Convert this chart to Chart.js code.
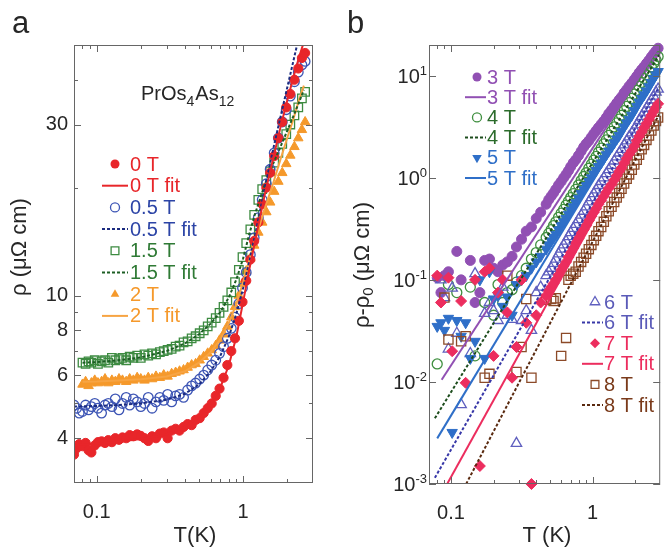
<!DOCTYPE html>
<html>
<head>
<meta charset="utf-8">
<title>PrOs4As12 resistivity</title>
<script src="https://cdn.jsdelivr.net/npm/chart.js@4.4.1/dist/chart.umd.min.js"></script>
<style>
  html, body { margin: 0; padding: 0; background: #fff; }
  #wrap { position: relative; width: 668px; height: 550px; }
  #wrap canvas { position: absolute; top: 0; }
  #chartA { left: 0; }
  #chartB { left: 334px; }
</style>
</head>
<body>
<div id="wrap">
  <canvas id="chartA" width="334" height="550"></canvas>
  <canvas id="chartB" width="334" height="550"></canvas>
</div>
<script>
// ---------- panel a : rho(T) in low fields ----------
var seriesA = ['0 T', '0.5 T', '1.5 T', '2 T'];
var tA = [0.07, 0.073, 0.076, 0.08, 0.084, 0.088, 0.092, 0.097, 0.102, 0.108, 0.114, 0.12, 0.127, 0.134, 0.142, 0.15,
  0.159, 0.168, 0.178, 0.189, 0.2, 0.212, 0.225, 0.239, 0.254, 0.27, 0.287, 0.305, 0.325, 0.346, 0.368, 0.392, 0.418,
  0.445, 0.474, 0.505, 0.538, 0.573, 0.61, 0.65, 0.69, 0.735, 0.78, 0.83, 0.88, 0.935, 0.99, 1.05, 1.12, 1.19, 1.27,
  1.35, 1.44, 1.53, 1.63, 1.74, 1.85, 1.97, 2.1, 2.24, 2.38, 2.52, 2.65];
var rho0T = [3.6, 3.75, 3.85, 3.8, 3.88, 3.7, 3.65, 3.82, 3.9, 3.92, 3.88, 3.95, 3.9, 4.0, 3.96, 4.02, 4.0, 4.08, 4.05,
  4.1, 4.06, 4.0, 3.93, 4.05, 4.0, 4.12, 4.15, 4.0, 4.2, 4.25, 4.2, 4.3, 4.38, 4.35, 4.5, 4.55, 4.7, 4.85, 5.0, 5.25,
  5.5, 5.9, 6.4, 7.0, 7.6, 8.5, 9.6, 11.0, 12.6, 14.2, 16.0, 18.0, 20.0, 22.0, 24.5, 27.5, 30.5, 33.5, 36.5, 40, 43, 46, 47.5];
var rho05T = [4.95, 4.85, 4.7, 4.75, 4.95, 4.8, 4.9, 5.0, 4.85, 4.7, 4.95, 5.0, 4.9, 5.15, 4.8, 5.0, 5.2, 4.95, 5.15,
  5.05, 4.9, 5.0, 5.2, 4.85, 5.05, 5.2, 5.1, 5.3, 5.05, 5.25, 5.3, 5.2, 5.45, 5.6, 5.7, 5.85, 6.0, 6.2, 6.4, 6.6, 6.9,
  7.2, 7.6, 8.1, 8.7, 9.5, 10.5, 11.6, 13.0, 14.5, 16.5, 18.5, 20.5, 22.5, 25, 27.5, 30.5, 33, 36, 39.5, 42, 44, 45];
var rho15T = [null, null, null, 6.5, 6.45, 6.55, 6.5, 6.6, 6.45, 6.55, 6.6, 6.5, 6.7, 6.6, 6.65, 6.7, 6.6, 6.75, 6.7,
  6.8, 6.7, 6.85, 6.8, 6.9, 6.85, 6.95, 7.0, 7.05, 7.1, 7.2, 7.25, 7.4, 7.45, 7.6, 7.7, 7.85, 8.0, 8.2, 8.4, 8.65, 8.95,
  9.3, 9.7, 10.2, 10.9, 11.8, 12.8, 14.0, 15.3, 16.8, 18.5, 19.8, 21.0, 22.2, 23.5, 25, 26.5, 28.2, 30, 31.8, 33.5, 35.5, 37];
var rho2T = [null, null, null, 5.65, 5.75, 5.6, 5.7, 5.8, 5.7, 5.75, 5.85, 5.7, 5.8, 5.75, 5.85, 5.8, 5.75, 5.85, 5.8,
  5.9, 5.85, 5.8, 5.9, 5.85, 5.95, 5.9, 6.0, 5.95, 6.05, 6.1, 6.15, 6.2, 6.3, 6.4, 6.45, 6.6, 6.75, 6.9, 7.05, 7.25,
  7.5, 7.8, 8.2, 8.7, 9.3, 10.0, 10.8, 11.7, 12.7, 13.8, 15.0, 16.0, 17.1, 18.2, 19.5, 20.8, 22.0, 23.3, 24.6, 26.0, 27.5, 29.0, 30.5];
var tFitA = [0.07, 0.08, 0.1, 0.15, 0.2, 0.3, 0.4, 0.5, 0.6, 0.7, 0.8, 0.9, 1.0, 1.1, 1.2, 1.4, 1.6, 1.8, 2.0, 2.2, 2.4, 2.6];
var fit0T = [3.82, 3.84, 3.86, 3.92, 3.98, 4.1, 4.3, 4.6, 5.0, 5.55, 6.4, 7.7, 9.6, 11.8, 14.0, 19, 24, 29.5, 35, 40.5, 46, 51];
var fit05T = [4.9, 4.91, 4.92, 4.96, 5.0, 5.12, 5.32, 5.65, 6.15, 6.8, 7.7, 8.9, 10.5, 12.4, 14.6, 19.8, 25.5, 31.5, 38, 45, 52.5, 60];
var fit15T = [null, 6.5, 6.52, 6.62, 6.72, 7.0, 7.35, 7.8, 8.35, 9.0, 9.9, 11.1, 12.7, 14.8, 16.8, 20.3, 23.3, 26, 28.8, 31.6, 34.5, 37.5];
var fit2T = [null, 5.75, 5.76, 5.8, 5.84, 5.95, 6.15, 6.5, 6.95, 7.55, 8.4, 9.5, 10.9, 12.5, 14.2, 17.4, 20.5, 24, 27.5, 31, 35, 38.5];

// ---------- panel b : rho - rho0 in higher fields ----------
var seriesB = ['3 T', '4 T', '5 T', '6 T', '7 T', '8 T'];
var tB = [0.08, 0.085, 0.09, 0.096, 0.102, 0.11, 0.118, 0.127, 0.137, 0.148, 0.16, 0.173, 0.187, 0.2, 0.215, 0.232,
  0.25, 0.27, 0.29, 0.315, 0.34, 0.37, 0.4, 0.43, 0.47, 0.51, 0.55, 0.6, 0.65, 0.7, 0.76, 0.83, 0.9, 0.98, 1.06, 1.15,
  1.25, 1.36, 1.48, 1.6, 1.74, 1.89, 2.05, 2.22, 2.4, 2.6, 2.8];
var d3T = [0.105, 0.075, 0.11, 0.12, null, 0.19, 0.1, null, 0.155, 0.06, 0.075, 0.155, 0.16, 0.13, 0.12, 0.14, 0.15,
  0.17, 0.21, 0.25, 0.3, 0.33, 0.4, 0.46, 0.55, 0.66, 0.77, 0.92, 1.08, 1.28, 1.5, 1.82, 2.15, 2.5, 2.9, 3.35, 3.9,
  4.6, 5.4, 6.2, 7.3, 8.5, 9.9, 11.5, 13.2, 15.3, 17.5];
var d4T = [0.015, null, null, 0.09, null, 0.075, null, null, 0.085, 0.018, null, 0.06, null, 0.045, 0.09, 0.06, 0.075,
  0.08, 0.095, 0.11, 0.13, 0.16, 0.185, 0.22, 0.26, 0.31, 0.37, 0.45, 0.54, 0.64, 0.77, 0.94, 1.12, 1.36, 1.62, 1.95,
  2.35, 2.85, 3.45, 4.1, 5.0, 6.0, 7.2, 8.6, 10.2, 12.2, 14.3];
var d5T = [0.035, 0.038, 0.032, 0.042, 0.0032, 0.04, 0.028, 0.038, 0.017, 0.025, 0.1, 0.017, 0.12, 0.065, 0.07, 0.055,
  0.068, 0.045, 0.09, 0.1, 0.11, 0.13, 0.15, 0.17, 0.2, 0.24, 0.28, 0.34, 0.4, 0.48, 0.57, 0.7, 0.84, 1.0, 1.18, 1.4,
  1.68, 2.0, 2.4, 2.85, 3.45, 4.1, 5.0, 6.0, 7.1, 8.6, 10.2];
var d6T = [null, 0.1, 0.067, 0.021, 0.083, 0.03, 0.006, null, 0.019, 0.115, null, 0.047, 0.06, 0.05, 0.04, 0.085,
  0.045, 0.041, 0.0025, 0.04, 0.05, 0.032, 0.075, 0.085, 0.11, 0.13, 0.16, 0.2, 0.24, 0.29, 0.35, 0.43, 0.52, 0.64,
  0.76, 0.92, 1.1, 1.32, 1.6, 1.9, 2.3, 2.75, 3.3, 4.0, 4.8, 5.8, 6.9];
var d7T = [0.11, 0.06, null, 0.105, 0.02, null, 0.062, 0.0098, null, 0.1, 0.0015, 0.12, 0.13, 0.018, 0.075, 0.1,
  0.048, 0.011, 0.022, 0.1, 0.038, 0.001, 0.045, 0.06, 0.07, 0.085, 0.1, 0.125, 0.15, 0.185, 0.23, 0.285, 0.34, 0.42,
  0.5, 0.6, 0.72, 0.86, 1.05, 1.25, 1.55, 1.85, 2.3, 2.8, 3.4, 4.1, 4.9];
var d8T = [null, null, 0.067, 0.026, null, null, 0.025, 0.028, null, null, null, 0.011, 0.012, null, null, null, 0.11,
  null, 0.0125, 0.022, 0.065, 0.011, null, null, 0.064, 0.065, 0.066, 0.018, 0.027, 0.11, 0.12, 0.15, 0.18, 0.22, 0.27,
  0.33, 0.42, 0.52, 0.64, 0.78, 0.98, 1.2, 1.5, 1.9, 2.35, 2.9, 3.6];
// second, interleaved sweep above 0.5 K (the dense part of the curves)
var tB2 = [0.49, 0.53, 0.575, 0.625, 0.675, 0.73, 0.795, 0.865, 0.94, 1.02, 1.1, 1.2, 1.3, 1.42, 1.54, 1.67, 1.81,
  1.97, 2.13, 2.31, 2.5, 2.7, 2.9];
var d3Tb = [0.61, 0.71, 0.85, 1.0, 1.17, 1.4, 1.65, 2.0, 2.3, 2.7, 3.1, 3.6, 4.25, 5.0, 5.8, 6.8, 7.9, 9.2, 10.7, 12.3, 14.2, 16.4, 18.6];
var d4Tb = [0.285, 0.34, 0.41, 0.49, 0.59, 0.7, 0.85, 1.03, 1.24, 1.49, 1.78, 2.15, 2.6, 3.15, 3.75, 4.55, 5.45, 6.6, 7.9, 9.4, 11.2, 13.2, 15.4];
var d5Tb = [0.22, 0.26, 0.31, 0.37, 0.44, 0.52, 0.63, 0.77, 0.92, 1.09, 1.29, 1.54, 1.83, 2.2, 2.6, 3.15, 3.75, 4.55, 5.5, 6.5, 7.8, 9.4, 11.0];
var d6Tb = [0.12, 0.145, 0.18, 0.22, 0.265, 0.32, 0.39, 0.47, 0.58, 0.7, 0.84, 1.0, 1.2, 1.46, 1.75, 2.1, 2.52, 3.0, 3.65, 4.4, 5.3, 6.3, 7.4];
var d7Tb = [0.078, 0.092, 0.112, 0.137, 0.167, 0.205, 0.255, 0.31, 0.38, 0.46, 0.55, 0.66, 0.79, 0.95, 1.15, 1.4, 1.7, 2.05, 2.55, 3.1, 3.75, 4.5, 5.3];
var d8Tb = [null, 0.062, null, null, 0.1, 0.115, 0.135, 0.165, 0.2, 0.245, 0.3, 0.37, 0.47, 0.58, 0.71, 0.88, 1.08, 1.35, 1.68, 2.1, 2.6, 3.25, 3.9];
// power-law fits: straight lines on log-log axes, given by their end points
var tFit3T = [0.086, 2.95], fit3T = [0.0105, 19.5];
var tFit4T = [0.077, 2.95], fit4T = [0.0044, 16];
var tFit5T = [0.08, 2.95], fit5T = [0.0028, 11];
var tFit6T = [0.077, 2.95], fit6T = [0.00115, 7.8];
var tFit7T = [0.094, 2.95], fit7T = [0.001, 5.6];
var tFit8T = [0.128, 2.95], fit8T = [0.001, 4.2];

// ---------- axes ----------
var xTicks = [0.08, 0.09, 0.1, 0.2, 0.3, 0.4, 0.5, 0.6, 0.7, 0.8, 0.9, 1, 2];
var xMajor = [0.1, 1];
var yTicksA = [4, 5, 6, 7, 8, 9, 10, 20, 30, 40];
var yLabelsA = [4, 6, 8, 10, 30];
var yTicksB = [0.001, 0.01, 0.1, 1, 10];

var FONT = '"Liberation Sans", Arial, Helvetica, sans-serif';
var INK = '#262626';

function pts(ts, vs) {
  var out = [];
  for (var i = 0; i < ts.length; i++) {
    if (vs[i] != null) out.push({x: ts[i], y: vs[i]});
  }
  return out;
}

function markerSet(data, st, r, order, clip) {
  return {
    data: data, showLine: false, order: order, clip: clip,
    pointStyle: st.mk, pointRadius: r, pointHoverRadius: r, pointRotation: st.rot || 0,
    pointBackgroundColor: st.fill ? st.c : 'rgba(0,0,0,0)',
    pointBorderColor: st.c, pointBorderWidth: st.fill ? 1 : 1.3
  };
}

function fitSet(ts, vs, st) {
  return {
    data: pts(ts, vs), showLine: true, order: 0,
    borderColor: st.fc, borderWidth: 2, borderDash: st.dash,
    pointRadius: 0, pointHoverRadius: 0, fill: false, tension: 0
  };
}

function drawMarker(ctx, st, x, y, r) {
  ctx.beginPath();
  if (st.mk === 'circle') {
    ctx.arc(x, y, r, 0, Math.PI * 2);
  } else if (st.mk === 'rect') {
    var s = r * Math.SQRT1_2;
    ctx.rect(x - s, y - s, 2 * s, 2 * s);
  } else if (st.mk === 'rectRot') {
    ctx.moveTo(x, y - r); ctx.lineTo(x + r, y); ctx.lineTo(x, y + r); ctx.lineTo(x - r, y); ctx.closePath();
  } else {
    var a = (st.rot || 0) * Math.PI / 180;
    for (var i = 0; i < 3; i++) {
      var px = x + Math.sin(a) * r, py = y - Math.cos(a) * r;
      if (i) ctx.lineTo(px, py); else ctx.moveTo(px, py);
      a += Math.PI * 2 / 3;
    }
    ctx.closePath();
  }
  if (st.fill) { ctx.fillStyle = st.c; ctx.fill(); }
  else { ctx.strokeStyle = st.c; ctx.lineWidth = 1.3; ctx.stroke(); }
}

// legend: one marker row and one "fit" row per series
function drawLegend(ctx, names, styles, L) {
  ctx.font = '20px ' + FONT;
  ctx.textBaseline = 'middle';
  ctx.textAlign = 'left';
  names.forEach(function (name, i) {
    var st = styles[i], y1 = L.y0 + 2 * i * L.dy, y2 = y1 + L.dy;
    drawMarker(ctx, st, L.mx, y1, st.lr || 4.5);
    ctx.save();
    ctx.strokeStyle = st.fc; ctx.lineWidth = 2; ctx.setLineDash(st.dash);
    ctx.beginPath(); ctx.moveTo(L.lx0, y2); ctx.lineTo(L.lx1, y2); ctx.stroke();
    ctx.restore();
    ctx.fillStyle = st.tc;
    ctx.fillText(name, L.tx, y1 + 1);
    ctx.fillText(name + ' fit', L.tx, y2 + 1);
  });
}

function xAxis(h) {
  return {
    type: 'logarithmic', min: 0.07, max: 3,
    grid: {display: false, drawTicks: false}, border: {display: false},
    afterBuildTicks: function (s) { s.ticks = xTicks.map(function (v) { return {value: v}; }); },
    afterFit: function (s) { s.height = h; },
    ticks: {
      autoSkip: false, maxRotation: 0, padding: 17, color: INK, font: {family: FONT, size: 20},
      callback: function (v) { return xMajor.indexOf(v) >= 0 ? String(v) : ''; }
    }
  };
}

function framePlugin(yTicks, yMajor, extra) {
  return {
    id: 'frame',
    afterDraw: function (chart) {
      var ctx = chart.ctx, a = chart.chartArea, xs = chart.scales.x, ys = chart.scales.y;
      ctx.save();
      ctx.strokeStyle = '#666';
      ctx.lineWidth = 1;
      ctx.strokeRect(a.left + 0.5, a.top + 0.5, a.right - a.left - 1, a.bottom - a.top - 1);
      ctx.beginPath();
      xTicks.forEach(function (v) {
        var p = Math.round(xs.getPixelForValue(v)) + 0.5, len = xMajor.indexOf(v) >= 0 ? 7 : 4;
        ctx.moveTo(p, a.bottom); ctx.lineTo(p, a.bottom - len);
        ctx.moveTo(p, a.top); ctx.lineTo(p, a.top + len);
      });
      yTicks.forEach(function (v) {
        var p = Math.round(ys.getPixelForValue(v)) + 0.5, len = yMajor.indexOf(v) >= 0 ? 7 : 4;
        ctx.moveTo(a.left, p); ctx.lineTo(a.left + len, p);
        ctx.moveTo(a.right, p); ctx.lineTo(a.right - len, p);
      });
      ctx.stroke();
      extra(ctx, chart);
      ctx.restore();
    }
  };
}

function baseOptions(padTop, padRight) {
  return {
    responsive: false, animation: false, events: [],
    layout: {padding: {top: padTop, right: padRight, left: 0, bottom: 0}},
    plugins: {legend: {display: false}, tooltip: {enabled: false}}
  };
}

// ---------- panel a ----------
var stylesA = [
  {mk: 'circle', fill: true, c: '#e8262a', tc: '#e8262a', fc: '#e8262a', dash: []},
  {mk: 'circle', fill: false, c: '#3d55b5', tc: '#2c44a6', fc: '#1c2c80', dash: [3, 2]},
  {mk: 'rect', fill: false, c: '#3d8b41', tc: '#2f7a35', fc: '#1d5e24', dash: [3, 2], lr: 5.5},
  {mk: 'triangle', fill: true, c: '#f5992b', tc: '#f5992b', fc: '#f7a443', dash: [], lr: 5}
];
var optA = baseOptions(45, 21);
optA.scales = {
  x: xAxis(67),
  y: {
    type: 'logarithmic', min: 3, max: 50,
    grid: {display: false, drawTicks: false}, border: {display: false},
    afterBuildTicks: function (s) { s.ticks = yTicksA.map(function (v) { return {value: v}; }); },
    afterFit: function (s) { s.width = 74; },
    ticks: {
      autoSkip: false, padding: 6, color: INK, font: {family: FONT, size: 20},
      callback: function (v) { return yLabelsA.indexOf(v) >= 0 ? String(v) : ''; }
    }
  }
};
new Chart(document.getElementById('chartA'), {
  type: 'scatter',
  data: {datasets: [
    fitSet(tFitA, fit0T, stylesA[0]),
    fitSet(tFitA, fit05T, stylesA[1]),
    fitSet(tFitA, fit15T, stylesA[2]),
    fitSet(tFitA, fit2T, stylesA[3]),
    markerSet(pts(tA, rho0T), stylesA[0], 4.6, 1),
    markerSet(pts(tA, rho05T), stylesA[1], 4.8, 2),
    markerSet(pts(tA, rho15T), stylesA[2], 6, 3),
    markerSet(pts(tA, rho2T), stylesA[3], 5.5, 4)
  ]},
  options: optA,
  plugins: [framePlugin(yTicksA, yLabelsA, function (ctx, chart) {
    ctx.fillStyle = INK;
    ctx.textBaseline = 'alphabetic';
    ctx.textAlign = 'left';
    ctx.font = '31px ' + FONT;
    ctx.fillText('a', 12, 33);
    // compound name with subscripts
    var x = 141;
    [['PrOs', 0], ['4', 1], ['As', 0], ['12', 1]].forEach(function (p) {
      ctx.font = (p[1] ? 14 : 20) + 'px ' + FONT;
      ctx.fillText(p[0], x, p[1] ? 106 : 100);
      x += ctx.measureText(p[0]).width + (p[1] ? 1 : 0);
    });
    ctx.font = '22px ' + FONT;
    ctx.textAlign = 'center';
    ctx.textBaseline = 'middle';
    ctx.fillText('T(K)', 195, 536);
    ctx.save();
    ctx.translate(20, 247);
    ctx.rotate(-Math.PI / 2);
    ctx.fillText('\u03c1 (\u03bc\u03a9 cm)', 0, 0);
    ctx.restore();
    drawLegend(ctx, seriesA, stylesA, {mx: 115, lx0: 102, lx1: 128, tx: 130, y0: 164, dy: 21.7});
  })]
});

// ---------- panel b ----------
var stylesB = [
  {mk: 'circle', fill: true, c: '#9150b3', tc: '#9150b3', fc: '#9150b3', dash: []},
  {mk: 'circle', fill: false, c: '#3f8f3f', tc: '#2b6b2b', fc: '#1d4d1d', dash: [3, 2]},
  {mk: 'triangle', rot: 180, fill: true, c: '#2f6fc8', tc: '#2f6fc8', fc: '#2f6fc8', dash: [], lr: 5.5},
  {mk: 'triangle', fill: false, c: '#5f5fbf', tc: '#5a5ab8', fc: '#3838a8', dash: [3, 2], lr: 5.5},
  {mk: 'rectRot', fill: true, c: '#ec2d5e', tc: '#ec2d5e', fc: '#ec2d5e', dash: [], lr: 5},
  {mk: 'rect', fill: false, c: '#8c4a28', tc: '#7a3a1a', fc: '#5a2a10', dash: [3, 2], lr: 5.5}
];
var optB = baseOptions(45, 1);
optB.scales = {
  x: xAxis(66),
  y: {
    type: 'logarithmic', min: 0.001, max: 20,
    grid: {display: false, drawTicks: false}, border: {display: false},
    afterFit: function (s) { s.width = 95; },
    ticks: {display: false}
  }
};
new Chart(document.getElementById('chartB'), {
  type: 'scatter',
  data: {datasets: [
    fitSet(tFit3T, fit3T, stylesB[0]),
    fitSet(tFit4T, fit4T, stylesB[1]),
    fitSet(tFit5T, fit5T, stylesB[2]),
    fitSet(tFit6T, fit6T, stylesB[3]),
    fitSet(tFit7T, fit7T, stylesB[4]),
    fitSet(tFit8T, fit8T, stylesB[5]),
    markerSet(pts(tB, d3T).concat(pts(tB2, d3Tb)), stylesB[0], 5, 6, false),
    markerSet(pts(tB, d4T).concat(pts(tB2, d4Tb)), stylesB[1], 5, 5, false),
    markerSet(pts(tB, d5T).concat(pts(tB2, d5Tb)), stylesB[2], 6, 3, false),
    markerSet(pts(tB, d6T).concat(pts(tB2, d6Tb)), stylesB[3], 6, 4, false),
    markerSet(pts(tB, d7T).concat(pts(tB2, d7Tb)), stylesB[4], 5.5, 1, false),
    markerSet(pts(tB, d8T).concat(pts(tB2, d8Tb)), stylesB[5], 6.5, 2, false)
  ]},
  options: optB,
  plugins: [framePlugin(yTicksB, yTicksB, function (ctx, chart) {
    var a = chart.chartArea, ys = chart.scales.y;
    ctx.fillStyle = INK;
    ctx.textAlign = 'left';
    ctx.textBaseline = 'alphabetic';
    ctx.font = '31px ' + FONT;
    ctx.fillText('b', 13, 33);
    // decade labels 10^n
    yTicksB.forEach(function (v) {
      var e = Math.round(Math.log10(v)), y = ys.getPixelForValue(v);
      var ex = e < 0 ? '-' + (-e) : String(e);
      ctx.font = '13px ' + FONT;
      var we = ctx.measureText(ex).width;
      ctx.font = '20px ' + FONT;
      var wb = ctx.measureText('10').width;
      var x0 = a.left - 2 - we - wb;
      ctx.fillText('10', x0, y + 7);
      ctx.font = '13px ' + FONT;
      ctx.fillText(ex, x0 + wb, y - 1);
    });
    ctx.font = '22px ' + FONT;
    ctx.textAlign = 'center';
    ctx.textBaseline = 'middle';
    ctx.fillText('T (K)', 213, 536);
    // rotated axis title with subscript 0
    ctx.save();
    ctx.translate(29, 265);
    ctx.rotate(-Math.PI / 2);
    ctx.textAlign = 'left';
    var parts = [['\u03c1-\u03c1', 22, 0], ['0', 15, 6], [' (\u03bc\u03a9 cm)', 22, 0]];
    var total = 0;
    parts.forEach(function (p) { ctx.font = p[1] + 'px ' + FONT; total += ctx.measureText(p[0]).width; });
    var x = -total / 2;
    parts.forEach(function (p) {
      ctx.font = p[1] + 'px ' + FONT;
      ctx.fillText(p[0], x, p[2]);
      x += ctx.measureText(p[0]).width;
    });
    ctx.restore();
    drawLegend(ctx, seriesB.slice(0, 3), stylesB.slice(0, 3), {mx: 143, lx0: 131, lx1: 152, tx: 153, y0: 77, dy: 20.2});
    drawLegend(ctx, seriesB.slice(3), stylesB.slice(3), {mx: 261, lx0: 248, lx1: 269, tx: 270, y0: 302, dy: 20.6});
  })]
});
</script>
</body>
</html>
